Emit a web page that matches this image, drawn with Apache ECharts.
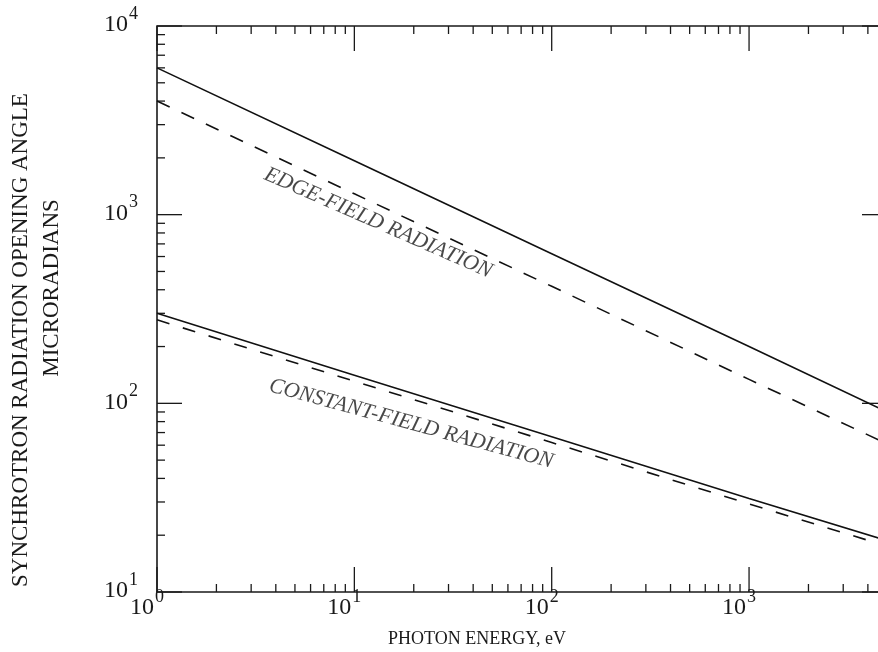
<!DOCTYPE html>
<html>
<head>
<meta charset="utf-8">
<script src="https://cdn.jsdelivr.net/npm/echarts@6/dist/echarts.min.js"></script>
<style>
html,body{margin:0;padding:0;background:#fff;}
#chart{width:878px;height:652px;}
</style>
</head>
<body>
<div id="chart"></div>
<script>
// ---- data ----
const energy = [1, 10, 100, 1000, 5000];                 // photon energy, eV
const edgeSolid = [6000, 1930, 620, 200, 90];            // edge-field, solid
const edgeDashed = [4000, 1290, 417, 134, 61];           // edge-field, dashed
const constSolid = [300, 141, 66.5, 31.3, 18.7];         // constant-field, solid
const constDashed = [277, 131, 62, 29.3, 17.5];          // constant-field, dashed

const xMin = 1, xMax = 5000, yMin = 10, yMax = 10000;
const xMajorTicks = [1, 10, 100, 1000];
const xMinorTicks = [2,3,4,5,6,7,8,9,20,30,40,50,60,70,80,90,200,300,400,500,600,700,800,900,2000,3000,4000];
const yMajorTicks = [10, 100, 1000, 10000];
const yMinorTicks = [20,30,40,50,60,70,80,90,200,300,400,500,600,700,800,900,2000,3000,4000,5000,6000,7000,8000,9000];

const edgeLabel = {text: 'EDGE-FIELD RADIATION', at: [13.2, 904]};
const constLabel = {text: 'CONSTANT-FIELD RADIATION', at: [19.4, 77.8]};

const xTitle = 'PHOTON ENERGY, eV';
const yTitle1 = 'SYNCHROTRON RADIATION OPENING ANGLE';
const yTitle2 = 'MICRORADIANS';

// ---- chart ----
const FONT = 'Liberation Serif';
const INK = '#1a1a1a';

function pairs(xs, ys) { return xs.map((x, i) => [x, ys[i]]); }
function powLabel(v) {
  const e = Math.round(Math.log10(v));
  if (Math.abs(Math.pow(10, e) - v) > 1e-6 * v) return '';
  return '{b|10}{s|' + e + '}';
}
const rich = {
  b: {fontFamily: FONT, fontSize: 24, lineHeight: 24, color: INK, padding: [8, 0, 0, 0]},
  s: {fontFamily: FONT, fontSize: 18, lineHeight: 18, color: INK, padding: [0, 0, 14, 1]}
};

const xTickData = xMajorTicks.map(v => [v, yMin, 2]).concat(xMinorTicks.map(v => [v, yMin, 1]));
const yTickData = yMajorTicks.map(v => [xMin, v, 2]).concat(yMinorTicks.map(v => [xMin, v, 1]));
const tickStyle = {stroke: INK, lineWidth: 1.3};

const chart = echarts.init(document.getElementById('chart'), null, {renderer: 'canvas'});
chart.setOption({
  backgroundColor: '#fff',
  animation: false,
  grid: {left: 157, top: 26, width: 730, height: 566, containLabel: false, outerBoundsMode: 'none',
         show: true, borderColor: INK, borderWidth: 1.6, backgroundColor: 'transparent'},
  xAxis: {
    type: 'log', logBase: 10, min: xMin, max: xMax,
    axisLine: {show: false}, axisTick: {show: false}, splitLine: {show: false},
    axisLabel: {formatter: powLabel, rich: rich, margin: 0, padding: [0, 20, 0, 0]}
  },
  yAxis: {
    type: 'log', logBase: 10, min: yMin, max: yMax,
    axisLine: {show: false}, axisTick: {show: false}, splitLine: {show: false},
    axisLabel: {formatter: powLabel, rich: rich, margin: 19, padding: [0, 0, 10, 0]}
  },
  graphic: [
    {type: 'text', x: 477, y: 639, style: {text: xTitle, font: '18px "' + FONT + '"', fill: INK, textAlign: 'center', textVerticalAlign: 'middle'}},
    {type: 'text', x: 21, y: 340, rotation: Math.PI / 2, style: {text: yTitle1, font: '23px "' + FONT + '"', fill: INK, textAlign: 'center', textVerticalAlign: 'middle'}},
    {type: 'text', x: 52, y: 288, rotation: Math.PI / 2, style: {text: yTitle2, font: '23px "' + FONT + '"', fill: INK, textAlign: 'center', textVerticalAlign: 'middle'}}
  ],
  series: [
    {type: 'line', data: pairs(energy, edgeSolid), showSymbol: false, lineStyle: {color: '#111', width: 1.6}},
    {type: 'line', data: pairs(energy, edgeDashed), showSymbol: false, lineStyle: {color: '#111', width: 1.6, type: [14, 13]}},
    {type: 'line', data: pairs(energy, constSolid), showSymbol: false, lineStyle: {color: '#111', width: 1.6}},
    {type: 'line', data: pairs(energy, constDashed), showSymbol: false, lineStyle: {color: '#111', width: 1.6, type: [13, 14]}},
    {type: 'scatter', symbolSize: 0, silent: true,
      data: [
        {value: edgeLabel.at, label: {formatter: edgeLabel.text, rotate: -23.7}},
        {value: constLabel.at, label: {formatter: constLabel.text, rotate: -15.2}}
      ],
      label: {show: true, position: 'inside', fontFamily: FONT, fontStyle: 'italic', fontSize: 22, color: INK}
    },
    {type: 'custom', silent: true, clip: false, data: xTickData, encode: {x: 0, y: 1},
      renderItem: function (params, api) {
        const v = api.value(0), len = api.value(2) > 1 ? 25 : 8;
        const pb = api.coord([v, yMin]), pt = api.coord([v, yMax]);
        return {type: 'group', children: [
          {type: 'line', shape: {x1: pb[0], y1: pb[1], x2: pb[0], y2: pb[1] - len}, style: tickStyle},
          {type: 'line', shape: {x1: pt[0], y1: pt[1], x2: pt[0], y2: pt[1] + len}, style: tickStyle}
        ]};
      }
    },
    {type: 'custom', silent: true, clip: false, data: yTickData, encode: {x: 0, y: 1},
      renderItem: function (params, api) {
        const v = api.value(1), len = api.value(2) > 1 ? 25 : 8;
        const pl = api.coord([xMin, v]), pr = api.coord([xMax, v]);
        return {type: 'group', children: [
          {type: 'line', shape: {x1: pl[0], y1: pl[1], x2: pl[0] + len, y2: pl[1]}, style: tickStyle},
          {type: 'line', shape: {x1: pr[0], y1: pr[1], x2: pr[0] - len, y2: pr[1]}, style: tickStyle}
        ]};
      }
    }
  ]
});
</script>
</body>
</html>
